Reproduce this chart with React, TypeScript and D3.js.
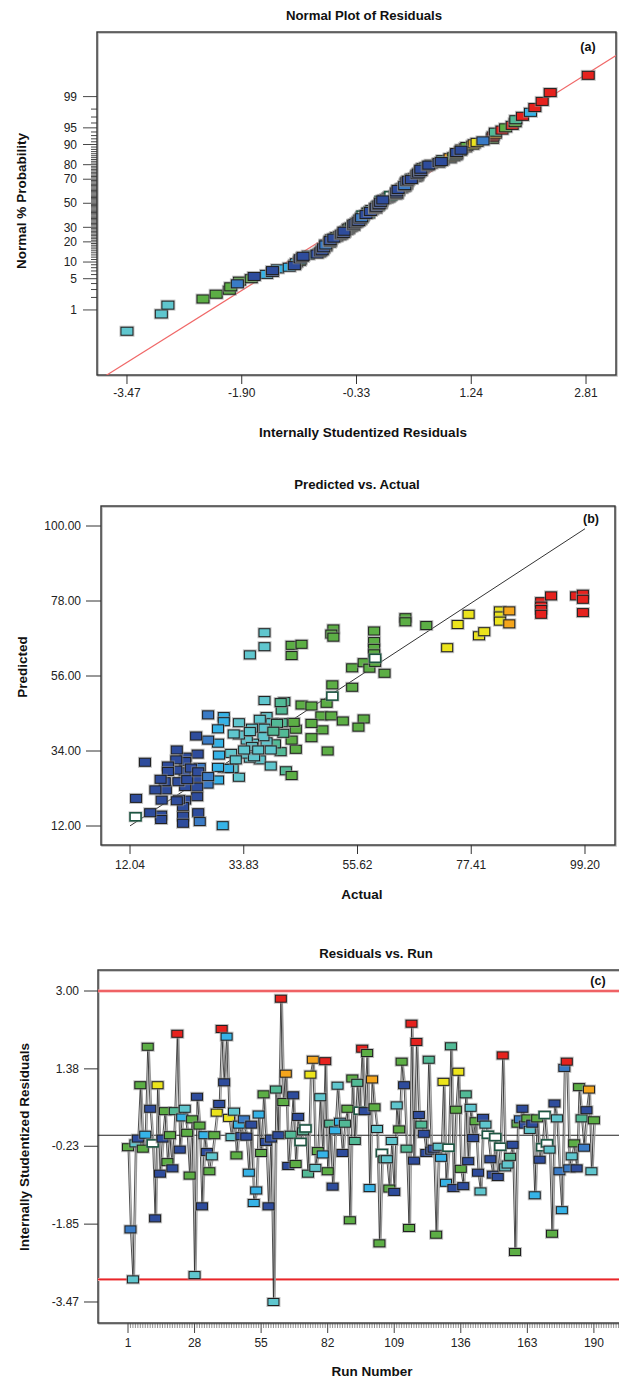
import { useEffect } from 'react';
import * as d3 from 'd3';

// (c) internally studentized residuals in run order
const runResiduals = [
  -0.25, -1.96, -3.0, -0.17, -0.07, 1.04, -0.28, 0.01, 1.84, 0.55,
  -0.17, -1.73, 1.04, -0.8, -0.07, 0.5, -0.56, 0.0, -0.69, 0.5,
  2.11, -0.3, 0.37, 0.55, 0.05, -0.84, 0.33, -2.91, 0.8, 0.2,
  -1.48, 0.0, -0.35, -0.75, -0.44, 0.0, 0.47, 0.65, 2.21, 1.1,
  2.05, 0.36, -0.04, 0.49, -0.42, 0.22, -0.02, 0.33, -0.03, -0.78,
  0.22, -1.41, -1.15, 0.43, -0.37, 0.85, -0.14, -1.48, -0.07, -3.47,
  0.95, 0.0, 2.84, 0.69, 1.28, -0.64, 0.01, 0.83, -0.6, 0.38,
  -0.14, 0.08, 0.14, -0.8, 1.26, 1.57, -0.68, -0.33, 0.79, -0.4,
  1.54, -0.75, 0.24, -1.07, 0.1, 1.03, 0.28, -0.37, 0.24, 0.55,
  -1.77, 1.18, -0.12, 1.09, 0.51, 1.8, 0.5, 1.71, -1.1, 1.16,
  0.58, 0.13, -2.25, -0.37, -0.5, -0.5, -1.11, -0.12, -1.18, 0.62,
  0.12, 1.53, 1.04, -0.28, -1.93, 2.32, -0.53, 1.94, 0.42, 0.22,
  0.03, -0.37, 1.57, -0.32, -0.28, -2.07, -0.24, -0.47, 1.11, -0.99,
  -0.26, 1.85, -1.1, 0.53, 1.32, -0.7, -1.06, 0.85, -0.54, 0.57,
  -0.06, 0.29, -0.78, -1.17, 0.36, 0.22, 0.01, -0.5, -0.82, -0.04,
  -0.87, -0.24, 1.66, -0.67, -0.61, -0.45, -0.2, -2.43, 0.24, 0.33,
  0.55, 0.22, 0.35, 0.11, 0.24, -1.25, 0.35, -0.51, -0.25, 0.42,
  -0.17, -0.3, -2.05, 0.66, 0.35, -0.75, -1.56, 1.4, 1.53, -0.69,
  -0.44, -0.17, -0.69, 1.0, 0.35, -0.26, 0.52, 0.95, -0.75, 0.31,
];

// colour band of each run (by its actual response): D dark blue .. R red, W hollow
const runBands = [
  'G', 'B', 'C', 'C', 'D', 'G', 'G', 'S', 'G', 'D',
  'W', 'D', 'Y', 'D', 'D', 'G', 'G', 'G', 'D', 'T',
  'R', 'D', 'S', 'C', 'G', 'G', 'G', 'C', 'D', 'G',
  'D', 'S', 'D', 'G', 'C', 'G', 'Y', 'D', 'R', 'D',
  'S', 'Y', 'C', 'C', 'G', 'S', 'D', 'B', 'D', 'S',
  'D', 'S', 'S', 'S', 'G', 'G', 'D', 'D', 'D', 'C',
  'T', 'D', 'R', 'G', 'O', 'D', 'T', 'D', 'G', 'D',
  'W', 'T', 'W', 'T', 'Y', 'O', 'C', 'G', 'C', 'S',
  'R', 'G', 'T', 'D', 'S', 'C', 'S', 'D', 'T', 'G',
  'G', 'G', 'T', 'T', 'W', 'R', 'D', 'G', 'S', 'O',
  'G', 'C', 'G', 'W', 'T', 'C', 'G', 'C', 'D', 'C',
  'G', 'G', 'D', 'T', 'G', 'R', 'D', 'R', 'D', 'T',
  'D', 'D', 'T', 'D', 'D', 'G', 'C', 'S', 'Y', 'S',
  'W', 'T', 'D', 'G', 'Y', 'G', 'D', 'T', 'D', 'C',
  'D', 'G', 'D', 'C', 'D', 'C', 'W', 'D', 'D', 'W',
  'D', 'W', 'R', 'C', 'C', 'T', 'D', 'G', 'G', 'B',
  'D', 'D', 'G', 'C', 'D', 'S', 'G', 'D', 'W', 'W',
  'W', 'C', 'G', 'D', 'C', 'B', 'S', 'B', 'R', 'B',
  'C', 'G', 'D', 'G', 'T', 'B', 'D', 'O', 'C', 'G',
];

// (b) predicted vs. actual
const actualValues = [
  35.0, 37.8, 37.8, 43.0, 44.9, 43.0, 51.0, 50.6, 51.0, 50.8,
  54.6, 54.6, 56.8, 57.9, 58.8, 58.8, 58.8, 58.8, 59.0, 60.8,
  64.8, 64.8, 68.8, 72.8, 74.8, 76.9, 78.9, 79.9, 82.9, 82.9,
  82.9, 84.7, 84.7, 90.8, 90.8, 90.8, 90.8, 92.7, 97.5, 98.8,
  98.8, 98.8,
  49.7, 44.9, 46.8, 48.7, 50.6, 52.8, 56.8, 55.8, 48.9, 46.8,
  49.9, 46.8, 43.8, 43.8, 43.4, 43.0, 41.6, 41.1, 41.1, 41.4,
  40.9, 39.8, 37.8, 38.2, 39.2, 36.9, 37.8, 38.2, 39.0, 37.6,
  35.4, 35.6, 36.9, 39.0, 41.9, 43.0, 35.0, 34.4, 34.4, 32.9,
  32.9, 31.9, 32.9, 31.7, 30.0, 30.8, 31.4, 30.0, 30.0, 28.9,
  28.9, 29.1, 28.9, 28.9, 27.0, 27.0, 26.9, 24.7, 25.0, 25.4,
  24.9, 24.9, 24.9, 25.1, 25.4, 22.7, 22.5, 22.6, 22.6, 22.2,
  22.2, 22.2, 22.6, 21.0, 20.9, 21.3, 21.4, 20.9, 19.3, 19.3,
  18.9, 18.7, 17.9, 18.1, 18.0, 18.0, 16.9, 15.9, 13.2, 14.9,
  23.0, 23.7, 25.1, 27.0, 29.8, 21.0, 35.0, 35.4, 35.8, 36.6,
  40.2, 40.9, 39.5, 33.9, 32.3,
];
const predictedValues = [
  62.2, 68.7, 64.6, 65.0, 65.3, 62.0, 69.8, 68.3, 67.4, 53.4,
  52.7, 58.4, 59.9, 58.3, 69.2, 66.1, 64.1, 62.5, 60.0, 56.8,
  73.1, 71.9, 70.8, 64.3, 71.1, 74.1, 67.8, 69.0, 75.1, 73.6,
  72.1, 75.1, 71.3, 77.8, 76.5, 75.5, 74.1, 79.5, 79.5, 80.0,
  78.5, 74.6,
  48.0, 47.5, 47.2, 44.3, 44.3, 42.8, 43.4, 41.0, 40.2, 37.9,
  34.0, 42.1, 40.4, 34.5, 42.4, 37.2, 48.5, 46.0, 42.3, 39.2,
  33.8, 36.1, 48.8, 44.1, 42.3, 43.3, 40.7, 36.7, 34.3, 38.2,
  40.7, 36.3, 31.4, 29.6, 28.2, 26.8, 31.9, 33.1, 37.2, 38.7,
  42.3, 39.0, 26.3, 28.9, 28.9, 28.9, 33.3, 44.1, 42.6, 40.5,
  36.3, 32.8, 29.2, 25.5, 37.2, 44.6, 24.3, 38.4, 33.1, 29.2,
  26.0, 23.4, 20.6, 15.9, 13.3, 32.2, 27.9, 23.6, 19.6, 17.7,
  14.9, 12.8, 30.9, 34.3, 31.4, 25.0, 19.8, 28.4, 29.6, 28.0,
  22.6, 25.0, 25.7, 19.6, 15.2, 13.9, 22.6, 15.9, 20.1, 30.7,
  25.6, 29.0, 27.9, 26.5, 12.1, 19.4, 39.7, 35.3, 32.3, 34.3,
  42.1, 48.2, 39.8, 34.3, 31.4,
];
const hollowActual = [13.1, 50.8, 59.0];
const hollowPredicted = [14.7, 50.1, 61.2];

const probTicks = [1, 5, 10, 20, 30, 50, 70, 80, 90, 95, 99];
const residualTicks = [-3.47, -1.9, -0.33, 1.24, 2.81];
const actualTicks = [12.04, 33.83, 55.62, 77.41, 99.2];
const predictedTicks = [12, 34, 56, 78, 100];
const runTicks = [1, 28, 55, 82, 109, 136, 163, 190];
const runResidualTicks = [3, 1.38, -0.23, -1.85, -3.47];
const limitLines = [3, -3];

const BAND_COLORS: Record<string, string> = {
  D: '#2e4c9c',
  B: '#3a7bc6',
  S: '#36b3e7',
  C: '#5fc6ce',
  T: '#52ba96',
  G: '#5cae45',
  Y: '#ece41c',
  O: '#f4a51c',
  R: '#e6221e',
  W: '#ffffff',
};

const bandOf = d3
  .scaleThreshold<number, string>()
  .domain([25.2, 28, 31.2, 39.5, 43, 70, 83.5, 88])
  .range(['D', 'B', 'S', 'C', 'T', 'G', 'Y', 'O', 'R']);

const FONT = "'Liberation Sans', Arial, Helvetica, sans-serif";
const NARROW = "'Liberation Sans Narrow', 'Arial Narrow', 'Liberation Sans', Arial, sans-serif";

// inverse normal cdf (Acklam)
function qnorm(p: number) {
  const a = [-39.69683028665376, 220.9460984245205, -275.9285104469687, 138.357751867269, -30.66479806614716, 2.506628277459239];
  const b = [-54.47609879822406, 161.5858368580409, -155.6989798598866, 66.80131188771972, -13.28068155288572];
  const c = [-0.007784894002430293, -0.3223964580411365, -2.400758277161838, -2.549732539343734, 4.374664141464968, 2.938163982698783];
  const d = [0.007784695709041462, 0.3224671290700398, 2.445134137142996, 3.754408661907416];
  const lo = 0.02425;
  if (p < lo || p > 1 - lo) {
    const q = Math.sqrt(-2 * Math.log(p < lo ? p : 1 - p));
    const v = (((((c[0] * q + c[1]) * q + c[2]) * q + c[3]) * q + c[4]) * q + c[5]) / ((((d[0] * q + d[1]) * q + d[2]) * q + d[3]) * q + 1);
    return p < lo ? v : -v;
  }
  const q = p - 0.5;
  const r = q * q;
  return ((((((a[0] * r + a[1]) * r + a[2]) * r + a[3]) * r + a[4]) * r + a[5]) * q) / (((((b[0] * r + b[1]) * r + b[2]) * r + b[3]) * r + b[4]) * r + 1);
}

const Marker = ({ x, y, w, h, band }: { x: number; y: number; w: number; h: number; band: string }) => (
  <g>
    <rect x={x - w / 2 - 1.5} y={y - h / 2 - 1.5} width={w + 3} height={h + 3} fill="#8f8f8f" opacity={0.55} />
    <rect
      x={x - w / 2}
      y={y - h / 2}
      width={w}
      height={h}
      fill={BAND_COLORS[band]}
      stroke={band === 'W' ? '#1c5541' : '#1e1e1e'}
      strokeWidth={band === 'W' ? 1.6 : 1}
    />
  </g>
);

const Frame = ({ l, t, r, b }: { l: number; t: number; r: number; b: number }) => (
  <g>
    <rect x={l + 1} y={t + 1} width={r - l} height={b - t} fill="none" stroke="#bbb" strokeWidth={1.5} />
    <rect x={l} y={t} width={r - l} height={b - t} fill="none" stroke="#333" strokeWidth={1.4} />
  </g>
);

const titleStyle = { fontFamily: FONT, fontWeight: 700, fontSize: 13.2, fill: '#111' } as const;
const axisTitleStyle = { fontFamily: FONT, fontWeight: 700, fontSize: 13.5, fill: '#111' } as const;
const tagStyle = { fontFamily: FONT, fontWeight: 700, fontSize: 12.5, fill: '#111' } as const;
const tickStyle = { fontFamily: NARROW, fontSize: 12, fill: '#222' } as const;

export default function App() {
  useEffect(() => {
    document.body.style.margin = '0';
  }, []);

  // ---- (a) normal plot
  const A = { l: 97, r: 616, t: 32, b: 375 };
  const ax = d3.scaleLinear().domain([-3.88, 3.22]).range([A.l, A.r]);
  const az = d3.scaleLinear().domain([-3.745, 3.735]).range([A.b, A.t]);
  const n = runResiduals.length;
  const sorted = runResiduals
    .map((r, i) => ({ r, band: runBands[i] }))
    .sort((p, q) => p.r - q.r)
    .map((d, i) => ({ ...d, z: qnorm((i + 0.5) / n) }));
  const drawRank = (band: string) => (band === 'D' || band === 'B' ? 1 : 0);
  const normalPts = [...sorted].sort((p, q) => drawRank(p.band) - drawRank(q.band));
  const minorProb = d3.range(1, 100);

  // ---- (b) predicted vs actual
  const B = { l: 101, r: 615, t: 506, b: 845 };
  const bx = d3.scaleLinear().domain([6.48, 104.95]).range([B.l, B.r]);
  const by = d3.scaleLinear().domain([6.43, 105.87]).range([B.b, B.t]);

  // ---- (c) residuals vs run
  const C = { l: 98, r: 640, t: 970, b: 1323 };
  const cx = d3.scaleLinear().domain([-11.17, 208.7]).range([C.l, C.r]);
  const cy = d3.scaleLinear().domain([-3.907, 3.437]).range([C.b, C.t]);
  const runLine = d3
    .line<number>()
    .x((_, i) => cx(i + 1))
    .y((r) => cy(r));
  const runMinor = d3.range(1, 209);

  return (
    <svg
      width={619}
      height={1378}
      style={{ position: 'absolute', left: 0, top: 0, display: 'block', background: '#fff' }}
    >
      <defs>
        <clipPath id="clipA">
          <rect x={A.l} y={A.t} width={A.r - A.l} height={A.b - A.t} />
        </clipPath>
      </defs>

      {/* ================= (a) ================= */}
      <text x={364} y={20} textAnchor="middle" style={titleStyle}>
        Normal Plot of Residuals
      </text>
      <Frame l={A.l} t={A.t} r={A.r} b={A.b} />
      <text x={588} y={51} textAnchor="middle" style={tagStyle}>
        (a)
      </text>
      {minorProb.map((p) => (
        <line
          key={p}
          x1={A.l - (probTicks.includes(p) ? 14 : 6)}
          x2={A.l}
          y1={az(qnorm(p / 100))}
          y2={az(qnorm(p / 100))}
          stroke="#333"
          strokeWidth={0.9}
        />
      ))}
      {probTicks.map((p) => (
        <text key={p} x={A.l - 20} y={az(qnorm(p / 100))} dy="0.35em" textAnchor="end" style={tickStyle}>
          {p}
        </text>
      ))}
      {residualTicks.map((t) => (
        <g key={t}>
          <line x1={ax(t)} x2={ax(t)} y1={A.b} y2={A.b + 9} stroke="#333" />
          <text x={ax(t)} y={397} textAnchor="middle" style={tickStyle}>
            {t.toFixed(2)}
          </text>
        </g>
      ))}
      <text x={363} y={437} textAnchor="middle" style={axisTitleStyle}>
        Internally Studentized Residuals
      </text>
      <text transform={`translate(26,${201}) rotate(-90)`} textAnchor="middle" style={axisTitleStyle}>
        Normal % Probability
      </text>
      <g clipPath="url(#clipA)">
        <line x1={ax(-3.88)} y1={az(-3.88)} x2={ax(3.22)} y2={az(3.22)} stroke="#f06868" strokeWidth={1.2} />
      </g>
      {normalPts.map((d, i) => (
        <Marker key={i} x={ax(d.r)} y={az(d.z)} w={12} h={8} band={d.band} />
      ))}

      {/* ================= (b) ================= */}
      <text x={357} y={489} textAnchor="middle" style={titleStyle}>
        Predicted vs. Actual
      </text>
      <Frame l={B.l} t={B.t} r={B.r} b={B.b} />
      <text x={591} y={523} textAnchor="middle" style={tagStyle}>
        (b)
      </text>
      {predictedTicks.map((t) => (
        <g key={t}>
          <line x1={B.l - 15} x2={B.l} y1={by(t)} y2={by(t)} stroke="#333" />
          <text x={B.l - 20} y={by(t)} dy="0.35em" textAnchor="end" style={tickStyle}>
            {t.toFixed(2)}
          </text>
        </g>
      ))}
      {actualTicks.map((t) => (
        <g key={t}>
          <line x1={bx(t)} x2={bx(t)} y1={B.b} y2={B.b + 9} stroke="#333" />
          <text x={bx(t)} y={869} textAnchor="middle" style={tickStyle}>
            {t.toFixed(2)}
          </text>
        </g>
      ))}
      <text x={362} y={899} textAnchor="middle" style={axisTitleStyle}>
        Actual
      </text>
      <text transform={`translate(27,${667}) rotate(-90)`} textAnchor="middle" style={axisTitleStyle}>
        Predicted
      </text>
      <line
        x1={bx(actualTicks[0])}
        y1={by(actualTicks[0])}
        x2={bx(actualTicks[4])}
        y2={by(actualTicks[4])}
        stroke="#333"
        strokeWidth={1}
      />
      {actualValues.map((a, i) => (
        <Marker key={i} x={bx(a)} y={by(predictedValues[i])} w={11} h={8} band={bandOf(a)} />
      ))}
      {hollowActual.map((a, i) => (
        <Marker key={'h' + i} x={bx(a)} y={by(hollowPredicted[i])} w={11} h={8} band="W" />
      ))}

      {/* ================= (c) ================= */}
      <text x={376} y={958} textAnchor="middle" style={titleStyle}>
        Residuals vs. Run
      </text>
      <Frame l={C.l} t={C.t} r={C.r} b={C.b} />
      <text x={598} y={985} textAnchor="middle" style={tagStyle}>
        (c)
      </text>
      {runResidualTicks.map((t) => (
        <g key={t}>
          <line x1={C.l - 14} x2={C.l} y1={cy(t)} y2={cy(t)} stroke="#333" />
          <text x={C.l - 19} y={cy(t)} dy="0.35em" textAnchor="end" style={tickStyle}>
            {t.toFixed(2)}
          </text>
        </g>
      ))}
      {runMinor.map((r) => (
        <line
          key={r}
          x1={cx(r)}
          x2={cx(r)}
          y1={C.b}
          y2={C.b + (runTicks.includes(r) ? 10 : 5)}
          stroke="#444"
          strokeWidth={runTicks.includes(r) ? 1 : 0.6}
        />
      ))}
      {runTicks.map((t) => (
        <text key={t} x={cx(t)} y={1347} textAnchor="middle" style={tickStyle}>
          {t}
        </text>
      ))}
      <text x={372} y={1376} textAnchor="middle" style={axisTitleStyle}>
        Run Number
      </text>
      <text transform={`translate(29,${1147}) rotate(-90)`} textAnchor="middle" style={axisTitleStyle}>
        Internally Studentized Residuals
      </text>
      {limitLines.map((v) => (
        <g key={v}>
          <line x1={C.l} x2={C.r} y1={cy(v)} y2={cy(v)} stroke="#f7a0a0" strokeWidth={3} />
          <line x1={C.l} x2={C.r} y1={cy(v)} y2={cy(v)} stroke="#e8252a" strokeWidth={1.2} />
        </g>
      ))}
      <line x1={C.l} x2={C.r} y1={cy(0)} y2={cy(0)} stroke="#222" strokeWidth={1.1} />
      <path d={runLine(runResiduals) ?? ''} transform="translate(1.5,1)" fill="none" stroke="#9a9a9a" strokeWidth={1.3} />
      <path d={runLine(runResiduals) ?? ''} fill="none" stroke="#222" strokeWidth={0.8} />
      {runResiduals.map((r, i) => (
        <Marker key={i} x={cx(i + 1)} y={cy(r)} w={11} h={7} band={runBands[i]} />
      ))}
    </svg>
  );
}
